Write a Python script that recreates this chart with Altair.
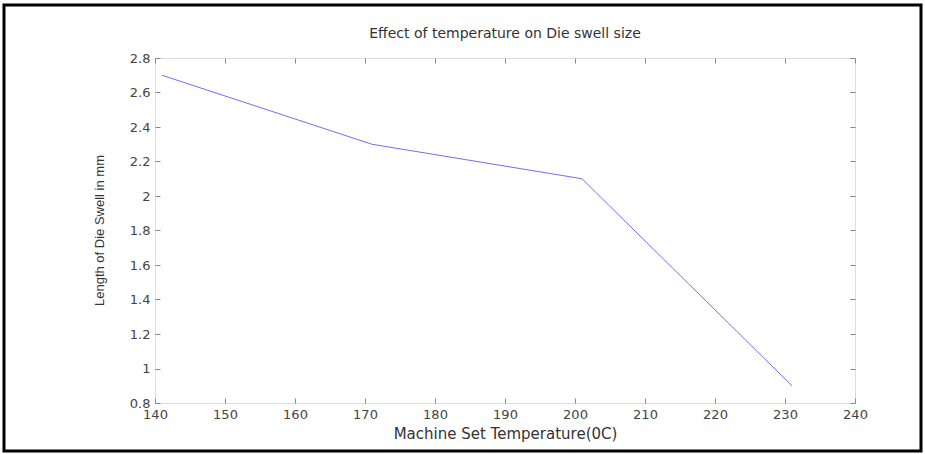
import altair as alt
import pandas as pd

# data
temps = [141, 171, 201, 231]
swell = [2.70, 2.30, 2.10, 0.90]
x_ticks = [140, 150, 160, 170, 180, 190, 200, 210, 220, 230, 240]
y_ticks = [0.8, 1.0, 1.2, 1.4, 1.6, 1.8, 2.0, 2.2, 2.4, 2.6, 2.8]
title_text = "Effect of temperature on Die swell size"

df = pd.DataFrame({"temp": temps, "swell": swell})

FONT = "DejaVu Sans"
xs = alt.Scale(domain=[140, 240], nice=False, zero=False)
ys = alt.Scale(domain=[0.8, 2.8], nice=False, zero=False)

common = dict(offset=-5, tickSize=5, domain=False, grid=False, tickColor="#888888",
              labelFont=FONT, labelFontSize=13, labelColor="#444444",
              labelFlush=False, labelOverlap=False)

line = alt.Chart(df).mark_line(color="#7070f0", strokeWidth=1).encode(
    x=alt.X("temp:Q", scale=xs, axis=alt.Axis(
        orient="bottom", values=x_ticks, title="Machine Set Temperature(0C)",
        labelPadding=5, titleFont=FONT, titleFontSize=15, titleFontWeight="normal",
        titleColor="#333333", titleY=35, titleBaseline="middle", **common)),
    y=alt.Y("swell:Q", scale=ys, axis=alt.Axis(
        orient="left", values=y_ticks, format="~g", title="Length of Die Swell in mm",
        labelPadding=5, titleFont="Liberation Sans", titleFontSize=13,
        titleFontWeight="normal", titleColor="#333333", titleX=-61, titleY=172,
        titleAngle=-90, titleAlign="center", titleBaseline="middle", **common)),
)

mirror = alt.Chart(df).mark_line(opacity=0).encode(
    x=alt.X("temp:Q", scale=xs, axis=alt.Axis(orient="top", values=x_ticks, labels=False,
                                              title=None, **common)),
    y=alt.Y("swell:Q", scale=ys, axis=alt.Axis(orient="right", values=y_ticks, labels=False,
                                               title=None, **common)),
)

title = alt.Chart(alt.Data(values=[{"t": title_text}])).mark_text(
    font=FONT, fontSize=14, color="#333333", align="center", baseline="middle"
).encode(text="t:N", x=alt.value(350), y=alt.value(-24))

frame = alt.Chart(alt.Data(values=[{}])).mark_rect(
    fillOpacity=0, stroke="black", strokeWidth=3
).encode(x=alt.value(-151), x2=alt.value(766), y=alt.value(-53), y2=alt.value(393))

chart = alt.layer(line, mirror, title, frame).resolve_axis(
    x="independent", y="independent"
).properties(
    width=700, height=345,
    autosize=alt.AutoSizeParams(type="none"),
    padding={"left": 155, "top": 58, "right": 70, "bottom": 51},
).configure_view(stroke="#808080", strokeWidth=1).configure(background="white")

chart.save("out.html", embed_options={"renderer": "svg", "actions": False})
